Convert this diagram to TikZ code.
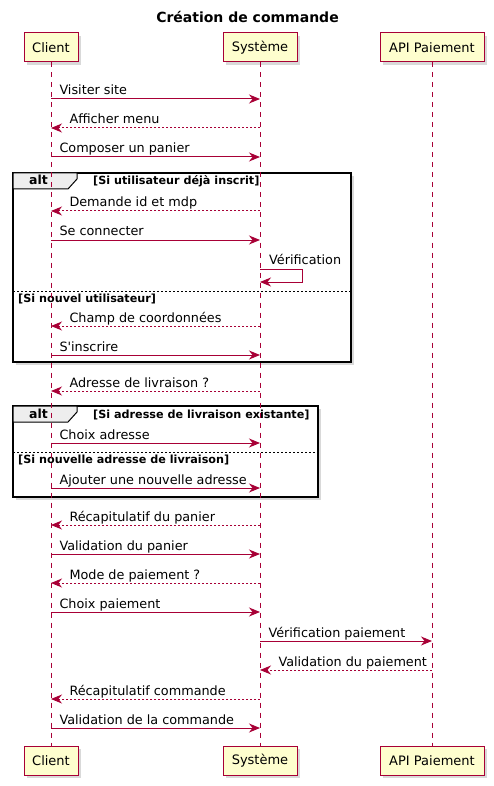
\documentclass[tikz,border=0pt]{standalone}
\usepackage{fontspec}
\setmainfont{DejaVu Sans}
\usetikzlibrary{arrows.meta,shadows}
\definecolor{puml}{HTML}{A80036}
\definecolor{pbox}{HTML}{FEFECE}
\definecolor{tabfill}{HTML}{EEEEEE}
\begin{document}
\begin{tikzpicture}[x=1pt,y=-1pt,
  font=\fontsize{13}{15}\selectfont,
  part/.style={draw=puml, fill=pbox, line width=1pt, minimum height=29pt, inner sep=0pt,
    drop shadow={shadow xshift=3pt,shadow yshift=-3pt,opacity=0.3}},
  lifeline/.style={draw=puml, line width=0.8pt, dash pattern=on 5pt off 5pt},
  msg/.style={draw=puml, line width=1pt, -{Stealth[length=11pt,width=9pt,inset=3.5pt]}},
  rmsg/.style={msg, dash pattern=on 2pt off 2pt},
  lblR/.style={anchor=base west, xshift=8pt, yshift=4pt, inner sep=0pt, text=black, font=\fontsize{12.8}{15}\selectfont},
  lblL/.style={anchor=base west, xshift=18pt, yshift=4pt, inner sep=0pt, text=black, font=\fontsize{12.8}{15}\selectfont},
  framebox/.style={draw=black, line width=1.5pt, fill=white,
    drop shadow={shadow xshift=3pt,shadow yshift=-3pt,opacity=0.3}},
  tabshape/.style={draw=black, line width=1pt, fill=tabfill},
  sep/.style={draw=black, line width=0.6pt, dash pattern=on 2pt off 2pt},
  cond/.style={anchor=base west, inner sep=0pt, font=\fontsize{11.2}{13}\selectfont\bfseries},
  alttxt/.style={anchor=base west, inner sep=0pt, font=\fontsize{12.5}{14}\selectfont\bfseries}
]
\useasboundingbox (0,0) rectangle (493,786);

% title
\node[anchor=base, inner sep=0pt, font=\fontsize{14}{16}\selectfont\bfseries] (title) at (247.5,22.5) {Création de commande};

% frames (behind lifelines)
\draw[framebox] (13,173) rectangle (351,362);
\draw[tabshape] (13,173) -- (77,173) -- (77,179) -- (68,189) -- (13,189) -- cycle;
\node[alttxt] (alt1) at (29,185) {alt};
\node[cond] (c1a) at (93,185) {[Si utilisateur déjà inscrit]};
\draw[sep] (13,291) -- (351,291);
\node[cond] (c1b) at (18,302) {[Si nouvel utilisateur]};

\draw[framebox] (13,406) rectangle (318,497);
\draw[tabshape] (13,406) -- (77,406) -- (77,412) -- (68,422) -- (13,422) -- cycle;
\node[alttxt] (alt2) at (29,418) {alt};
\node[cond] (c2a) at (93,418) {[Si adresse de livraison existante]};
\draw[sep] (13,452) -- (318,452);
\node[cond] (c2b) at (18,463) {[Si nouvelle adresse de livraison]};

% participants
\node[part, minimum width=54pt] (cT) at (51,47.5) {Client};
\node[part, minimum width=74pt] (sT) at (260,47.5) {Système};
\node[part, minimum width=104pt] (aT) at (432,47.5) {API Paiement};
\node[part, minimum width=54pt] (cB) at (51,760.5) {Client};
\node[part, minimum width=74pt] (sB) at (260,760.5) {Système};
\node[part, minimum width=104pt] (aB) at (432,760.5) {API Paiement};

\draw[lifeline] (cT.south) -- (cB.north);
\draw[lifeline] (sT.south) -- (sB.north);
\draw[lifeline] (aT.south) -- (aB.north);

% messages
\draw[msg]  (cT |- 0,99)  -- (sT |- 0,99)  node[pos=0, lblR] {Visiter site};
\draw[rmsg] (sT |- 0,128) -- (cT |- 0,128) node[pos=1, lblL] {Afficher menu};
\draw[msg]  (cT |- 0,157) -- (sT |- 0,157) node[pos=0, lblR] {Composer un panier};
\draw[rmsg] (sT |- 0,211) -- (cT |- 0,211) node[pos=1, lblL] {Demande id et mdp};
\draw[msg]  (cT |- 0,240) -- (sT |- 0,240) node[pos=0, lblR] {Se connecter};
\draw[msg]  (sT |- 0,269) -- ++(42,0) -- ++(0,13) -- (sT |- 0,282);
\node[anchor=base west, inner sep=0pt, font=\fontsize{12.8}{15}\selectfont] (verif) at (269,264) {Vérification};
\draw[rmsg] (sT |- 0,326) -- (cT |- 0,326) node[pos=1, lblL] {Champ de coordonnées};
\draw[msg]  (cT |- 0,355) -- (sT |- 0,355) node[pos=0, lblR] {S\textquotesingle inscrire};
\draw[rmsg] (sT |- 0,391) -- (cT |- 0,391) node[pos=1, lblL] {Adresse de livraison ?};
\draw[msg]  (cT |- 0,443) -- (sT |- 0,443) node[pos=0, lblR] {Choix adresse};
\draw[msg]  (cT |- 0,488) -- (sT |- 0,488) node[pos=0, lblR] {Ajouter une nouvelle adresse};
\draw[rmsg] (sT |- 0,525) -- (cT |- 0,525) node[pos=1, lblL] {Récapitulatif du panier};
\draw[msg]  (cT |- 0,554) -- (sT |- 0,554) node[pos=0, lblR] {Validation du panier};
\draw[rmsg] (sT |- 0,583) -- (cT |- 0,583) node[pos=1, lblL] {Mode de paiement ?};
\draw[msg]  (cT |- 0,612) -- (sT |- 0,612) node[pos=0, lblR] {Choix paiement};
\draw[msg]  (sT |- 0,641) -- (aT |- 0,641) node[pos=0, lblR] {Vérification paiement};
\draw[rmsg] (aT |- 0,670) -- (sT |- 0,670) node[pos=1, lblL] {Validation du paiement};
\draw[rmsg] (sT |- 0,699) -- (cT |- 0,699) node[pos=1, lblL] {Récapitulatif commande};
\draw[msg]  (cT |- 0,728) -- (sT |- 0,728) node[pos=0, lblR] {Validation de la commande};
\end{tikzpicture}
\end{document}
